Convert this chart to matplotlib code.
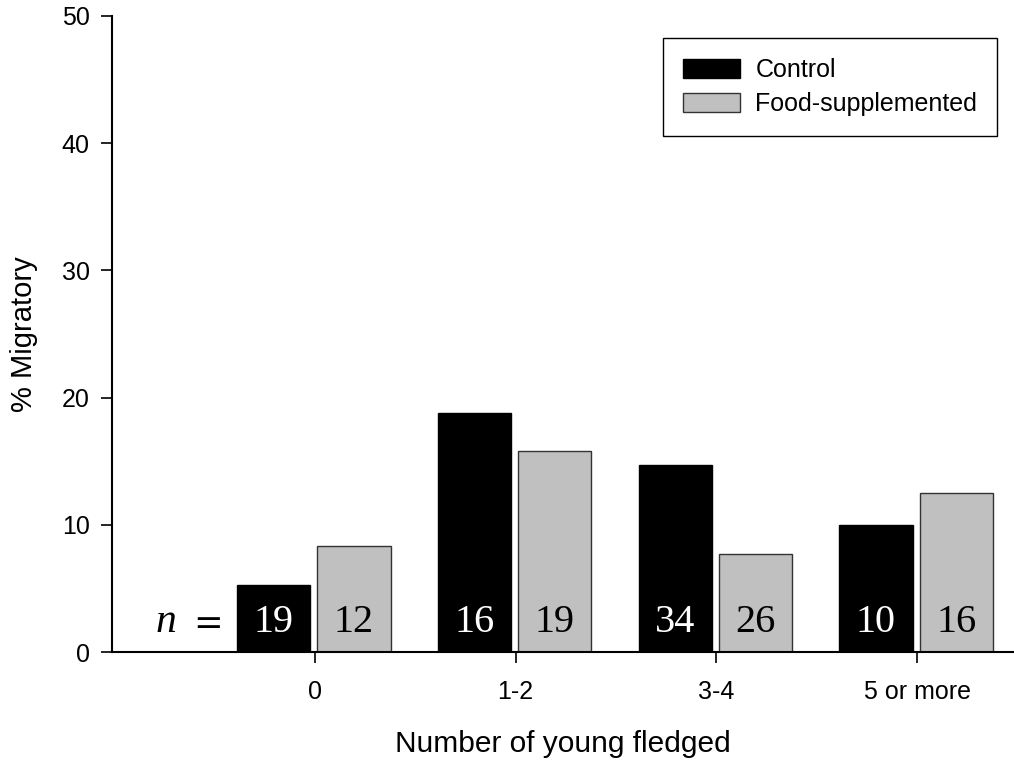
import numpy as np
import matplotlib.pyplot as plt

# % migratory by brood size, with sample sizes
categories = ['0', '1-2', '3-4', '5 or more']
control = [5.3, 18.8, 14.7, 10.0]
food = [8.3, 15.8, 7.7, 12.5]
n_control = [19, 16, 34, 10]
n_food = [12, 19, 26, 16]

plt.rcParams['font.family'] = 'Liberation Sans'

fig = plt.figure(figsize=(10.14, 7.61), dpi=100)
ax = fig.add_axes([0.1105, 0.1432, 0.889, 0.836])

x = np.arange(1, len(categories) + 1)
w = 0.365
ax.bar(x - 0.205, control, w, color='black', edgecolor='black',
       linewidth=1, label='Control')
ax.bar(x + 0.195, food, w, color='#c0c0c0', edgecolor='#333333',
       linewidth=1, label='Food-supplemented')

serif = 'Liberation Serif'
for xi, n in zip(x - 0.205, n_control):
    ax.text(xi, 0.85, str(n), ha='center', va='bottom', color='white',
            fontsize=29, family=serif)
for xi, n in zip(x + 0.195, n_food):
    ax.text(xi, 0.85, str(n), ha='center', va='bottom', color='black',
            fontsize=29, family=serif)
ax.text(0.26, 0.85, 'n', ha='center', va='bottom', fontsize=30,
        family=serif, style='italic')
ax.text(0.455, 1.0, r'$=$', ha='center', va='bottom', fontsize=27,
        math_fontfamily='stix')

ax.set_xlim(-0.01, 4.48)
ax.set_ylim(0, 50)
ax.set_xticks(x)
ax.set_xticklabels(categories)
ax.set_yticks(np.arange(0, 51, 10))
ax.tick_params(direction='out', length=8, width=1.2, labelsize=18, pad=8)
ax.tick_params(axis='x', pad=12)
for s in ['top', 'right']:
    ax.spines[s].set_visible(False)
for s in ['left', 'bottom']:
    ax.spines[s].set_linewidth(1.5)

ax.set_xlabel('Number of young fledged', fontsize=21.5, labelpad=19)
ax.set_ylabel('% Migratory', fontsize=21, labelpad=17)

leg = ax.legend(loc='upper right', bbox_to_anchor=(0.982, 0.965), fontsize=18,
                fancybox=False, edgecolor='black', framealpha=1,
                handlelength=2.3, handleheight=0.75, handletextpad=0.6,
                borderpad=0.8, labelspacing=0.4, borderaxespad=0)
leg.get_frame().set_linewidth(1)

fig.savefig('out.png', dpi=100)
